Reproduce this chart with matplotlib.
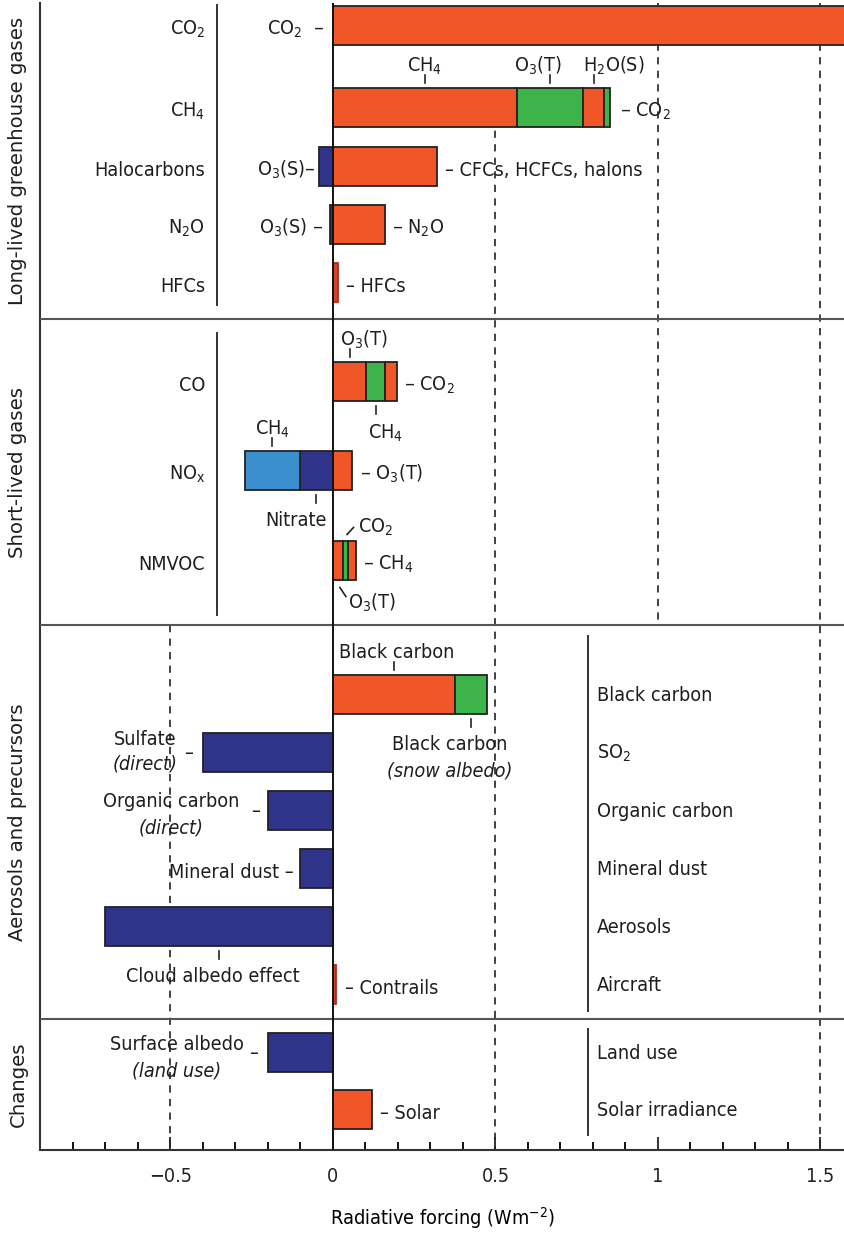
import numpy as np
import matplotlib
matplotlib.use("Agg")
import matplotlib.pyplot as plt

plt.rcParams['font.family'] = ['DejaVu Sans']
plt.rcParams['font.stretch'] = 'condensed'
plt.rcParams['mathtext.default'] = 'regular'
plt.rcParams['font.size'] = 14.2
plt.rcParams['text.color'] = '#1e1e1e'

ORANGE = '#f05628'
GREEN = '#3db44a'
NAVY = '#30338a'
SKY = '#3b8fcf'
RED = '#d8402a'
INK = '#222222'

# radiative forcing values (W m-2)
co2 = 1.66
ch4_parts = [0.566, 0.203, 0.066, 0.018]   # CH4, O3(T), H2O(S), CO2
halo_pos, halo_neg = 0.32, -0.043          # CFCs etc., O3(S)
n2o_pos, n2o_neg = 0.16, -0.01
hfcs = 0.014

co_parts = [0.102, 0.058, 0.038]           # O3(T), CH4, CO2
nox_pos = 0.058                            # O3(T)
nox_neg = [-0.102, -0.169]                 # nitrate, CH4
nmvoc_parts = [0.03, 0.017, 0.023]         # O3(T), CO2, CH4

bc_parts = [0.375, 0.099]                  # black carbon, snow albedo
sulfate = -0.40
organic = -0.20
dust = -0.10
cloud = -0.70
contrails = 0.01

surface_albedo = -0.20
solar = 0.12

long_names = ['CO$_2$', 'CH$_4$', 'Halocarbons', 'N$_2$O', 'HFCs']
short_names = ['CO', 'NO$_x$', 'NMVOC']
aero_names = ['Black carbon', 'SO$_2$', 'Organic carbon', 'Mineral dust',
              'Aerosols', 'Aircraft']
change_names = ['Land use', 'Solar irradiance']
group_names = ['Long-lived greenhouse gases', 'Short-lived gases',
               'Aerosols and precursors', 'Changes']

xticks = [-0.5, 0, 0.5, 1, 1.5]
xtick_labels = ['\u22120.5', '0', '0.5', '1', '1.5']

# vertical layout, in pixel rows from the top of the plot
TOP, BOTTOM = 3, 1150
long_y = [26, 108, 167, 225, 283]
short_y = [382, 471, 561]
aero_y = [695, 753, 811, 869, 927, 985]
change_y = [1053, 1110]
sections = [TOP, 319, 625, 1019, BOTTOM]
H = 39

XMIN, XMAX = -0.9015, 1.5754
PX = (XMAX - XMIN) / 805.0   # one pixel along x

fig = plt.figure(figsize=(8.45, 12.34), dpi=100)
ax = fig.add_axes([40 / 845, 1 - BOTTOM / 1234, 805 / 845, (BOTTOM - TOP) / 1234])
ax.set_xlim(XMIN, XMAX)
ax.set_ylim(BOTTOM, TOP)


def stack(y, widths, colors, edge=INK):
    widths = np.asarray(widths, dtype=float)
    lefts = np.concatenate([[0.0], np.cumsum(widths)[:-1]])
    ax.barh(y, widths, left=lefts, height=H, color=colors, edgecolor=edge,
            linewidth=1.3, zorder=3)
    return lefts + widths / 2


def tag(x, y, text, above=True, dx=0, **kw):
    # short vertical tick off a bar edge with a label beyond it
    edge = y - H / 2 if above else y + H / 2
    s = -1 if above else 1
    ax.plot([x, x], [edge + s * 5, edge + s * 13], color=INK, lw=1.2, zorder=4)
    if above:
        ax.text(x + dx * PX, edge - 17, text, ha='center', va='baseline', **kw)
    else:
        ax.text(x + dx * PX, edge + 21, text, ha='center', va='top', **kw)


def side(x, y, text, right=True, gap=8, drop=9, **kw):
    ax.annotate(text, xy=(x, y + drop), xytext=(gap if right else -gap, 0),
                textcoords='offset pixels', ha='left' if right else 'right',
                va='baseline', **kw)


# guide lines
guides = [(-0.5, sections[2], BOTTOM), (0.5, 90, BOTTOM),
          (1.0, TOP, sections[2]), (1.5, TOP, BOTTOM)]
for gx, y0, y1 in guides:
    ax.plot([gx, gx], [y0, y1], color='#333333', lw=1.3,
            linestyle=(0, (4, 3.5)), zorder=1)

for sy in sections[1:-1]:
    ax.axhline(sy, color='#555555', lw=1.5, zorder=5)
ax.axvline(0, color='#111111', lw=1.4, zorder=6)

# long-lived greenhouse gases
stack(long_y[0], [co2], [ORANGE])
side(0, long_y[0], 'CO$_2$  \u2013', right=False, gap=9)

c = stack(long_y[1], ch4_parts, [ORANGE, GREEN, ORANGE, GREEN])
tag(c[0], long_y[1], 'CH$_4$')
tag(c[1], long_y[1], 'O$_3$(T)', dx=-12)
tag(c[2], long_y[1], 'H$_2$O(S)', dx=20)
side(sum(ch4_parts), long_y[1], '\u2013 CO$_2$', gap=10)

stack(long_y[2], [halo_neg], [NAVY])
stack(long_y[2], [halo_pos], [ORANGE])
side(halo_neg, long_y[2], 'O$_3$(S)\u2013', right=False, gap=3)
side(halo_pos, long_y[2], '\u2013 CFCs, HCFCs, halons')

stack(long_y[3], [n2o_neg], [NAVY])
stack(long_y[3], [n2o_pos], [ORANGE])
side(n2o_neg, long_y[3], 'O$_3$(S) \u2013', right=False, gap=6)
side(n2o_pos, long_y[3], '\u2013 N$_2$O', gap=7)

stack(long_y[4], [hfcs], [RED], edge='#a03020')
side(hfcs, long_y[4], '\u2013 HFCs', gap=8)

# short-lived gases
c = stack(short_y[0], co_parts, [ORANGE, GREEN, ORANGE])
tag(c[0], short_y[0], 'O$_3$(T)', dx=14)
tag(c[1], short_y[0], 'CH$_4$', above=False, dx=10)
side(sum(co_parts), short_y[0], '\u2013 CO$_2$', gap=7)

c = stack(short_y[1], nox_neg, [NAVY, SKY])
stack(short_y[1], [nox_pos], [ORANGE])
tag(c[1], short_y[1], 'CH$_4$')
tag(c[0], short_y[1], 'Nitrate', above=False, dx=-20)
side(nox_pos, short_y[1], '\u2013 O$_3$(T)', gap=8)

c = stack(short_y[2], nmvoc_parts, [ORANGE, GREEN, ORANGE])
top, bot = short_y[2] - H / 2, short_y[2] + H / 2
ax.plot([c[1] + 1.5 * PX, c[1] + 8 * PX], [top - 7, top - 14], color=INK, lw=1.2)
ax.text(c[1] + 12 * PX, top - 9, 'CO$_2$', ha='left', va='baseline')
ax.plot([c[0] + 2 * PX, c[0] + 8 * PX], [bot + 7, bot + 16], color=INK, lw=1.2)
ax.text(c[0] + 10 * PX, bot + 11, 'O$_3$(T)', ha='left', va='top')
side(sum(nmvoc_parts), short_y[2], '\u2013 CH$_4$', gap=7)

# aerosols and precursors
c = stack(aero_y[0], bc_parts, [ORANGE, GREEN])
tag(c[0], aero_y[0], 'Black carbon', dx=3)
tag(c[1], aero_y[0], 'Black carbon', above=False, dx=-21)
ax.text(c[1] - 21 * PX, aero_y[0] + H / 2 + 47, '(snow albedo)', ha='center',
        va='top', style='italic')

stack(aero_y[1], [sulfate], [NAVY])
side(sulfate, aero_y[1], '\u2013', right=False, gap=10, drop=6)
ax.text(sulfate - 58 * PX, aero_y[1] - 8, 'Sulfate', ha='center', va='baseline')
ax.text(sulfate - 58 * PX, aero_y[1] + 17, '(direct)', ha='center',
        va='baseline', style='italic')

stack(aero_y[2], [organic], [NAVY])
side(organic, aero_y[2], '\u2013', right=False, gap=8, drop=6)
ax.text(organic - 97 * PX, aero_y[2] - 4, 'Organic carbon', ha='center', va='baseline')
ax.text(organic - 97 * PX, aero_y[2] + 23, '(direct)', ha='center',
        va='baseline', style='italic')

stack(aero_y[3], [dust], [NAVY])
side(dust, aero_y[3], 'Mineral dust \u2013', right=False, gap=7)

c = stack(aero_y[4], [cloud], [NAVY])
tag(c[0], aero_y[4], 'Cloud albedo effect', above=False, dx=-6)

stack(aero_y[5], [contrails], [RED], edge='#a03020')
side(contrails, aero_y[5], '\u2013 Contrails', gap=9)

# changes
stack(change_y[0], [surface_albedo], [NAVY])
side(surface_albedo, change_y[0], '\u2013', right=False, gap=10, drop=6)
ax.text(surface_albedo - 91 * PX, change_y[0] - 3, 'Surface albedo', ha='center',
        va='baseline')
ax.text(surface_albedo - 91 * PX, change_y[0] + 24, '(land use)', ha='center',
        va='baseline', style='italic')

stack(change_y[1], [solar], [ORANGE])
side(solar, change_y[1], '\u2013 Solar', gap=8)

# row names beside the bars
LEFT_COL, LEFT_LINE = -0.394, -0.357
RIGHT_COL, RIGHT_LINE = 0.812, 0.785
for name, y in zip(long_names, long_y):
    ax.text(LEFT_COL, y + 9, name, ha='right', va='baseline')
for name, y in zip(short_names, short_y):
    ax.text(LEFT_COL, y + 9, name, ha='right', va='baseline')
for name, y in zip(aero_names, aero_y):
    ax.text(RIGHT_COL, y + 6, name, ha='left', va='baseline')
for name, y in zip(change_names, change_y):
    ax.text(RIGHT_COL, y + 6, name, ha='left', va='baseline')

for lx, y0, y1 in [(LEFT_LINE, 5, 305), (LEFT_LINE, 333, 615),
                   (RIGHT_LINE, 636, 1011), (RIGHT_LINE, 1029, 1135)]:
    ax.plot([lx, lx], [y0, y1], color='#333333', lw=1.4)

# group names down the left edge
for name, y0, y1 in zip(group_names, sections[:-1], sections[1:]):
    fig.text(18 / 845, 1 - (y0 + y1) / 2 / 1234, name, rotation=90,
             ha='center', va='center', fontsize=14.2, fontstretch='normal')

# axes styling
for s in ['top', 'right']:
    ax.spines[s].set_visible(False)
ax.spines['left'].set_linewidth(1.5)
ax.spines['bottom'].set_linewidth(1.5)
ax.spines['left'].set_color('#333333')
ax.spines['bottom'].set_color('#333333')
ax.set_yticks([])
ax.set_xticks(xticks)
ax.set_xticklabels(xtick_labels)
ax.set_xticks(np.arange(-0.8, 1.55, 0.1), minor=True)
ax.tick_params(axis='x', which='major', direction='in', length=9.5, width=1.3,
               pad=12, colors='#222222')
ax.tick_params(axis='x', which='minor', direction='in', length=5.5, width=1.3)
ax.set_xlabel('Radiative forcing (Wm$^{-2}$)', labelpad=14)

fig.savefig('out.png', dpi=100)
